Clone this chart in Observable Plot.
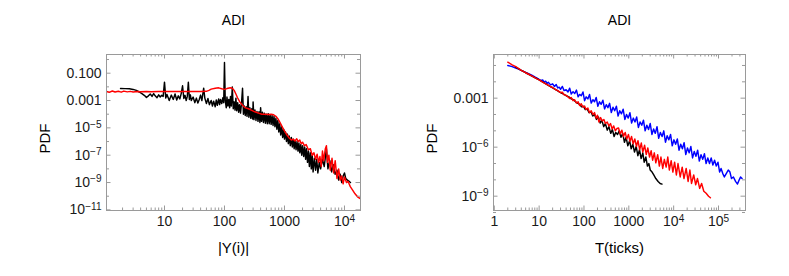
<!DOCTYPE html>
<html><head><meta charset="utf-8">
<script src="https://cdn.jsdelivr.net/npm/d3@7"></script>
<script src="https://cdn.jsdelivr.net/npm/@observablehq/plot@0.6"></script>
<style>
html,body{margin:0;padding:0;background:#fff;}
#wrap{display:flex;width:789px;height:276px;overflow:hidden;}
</style></head><body><div id="wrap"></div>
<script>
const title = "ADI";
const yLabel = "PDF";
const leftXLabel = "|Y(i)|";
const rightXLabel = "T(ticks)";

const leftXTicks = [10, 100, 1000, 10000];
const leftXTickLabels = ["10", "100", "1000", "10^4"];
const leftYTicks = [0.1, 0.001, 1e-5, 1e-7, 1e-9, 1e-11];
const leftYTickLabels = ["0.100", "0.001", "10^−5", "10^−7", "10^−9", "10^−11"];
const leftYMinor = [1, 1e-2, 1e-4, 1e-6, 1e-8, 1e-10];

const rightXTicks = [1, 10, 100, 1000, 10000, 100000];
const rightXTickLabels = ["1", "10", "100", "1000", "10^4", "10^5"];
const rightYTicks = [1e-3, 1e-6, 1e-9];
const rightYTickLabels = ["0.001", "10^−6", "10^−9"];
const rightYMinor = [1e-1, 1e-2, 1e-4, 1e-5, 1e-7, 1e-8, 1e-10];

// Left panel: black series
const leftBlackX = [1.85,2.2,2.6,3.0,3.4,3.8,4.2,4.6,5.0,5.4,5.8,6.2,6.6,7.0,7.5,8.0,8.5,9.0,9.5,10,10.5,11,12,13,14,15,16,17,18,19,20,21,22,23,24,25,26,27,28,30,32,34,36,38,40,42,45,47,50,53,56,60,63,66,70,73,76,80,83,86,90,94,97,100,103,107,110,114,118,122,126,130,135,140,145,150,155,160,166,172,178,185,192,200,207,214,222,230,238,247,255,265,275,285,295,300,310,322,335,348,362,376,390,400,415,430,446,463,480,498,517,536,556,577,599,621,645,669,694,720,747,775,804,834,865,898,932,967,1000,1040,1080,1120,1160,1200,1250,1300,1350,1400,1450,1500,1560,1620,1680,1740,1800,1870,1940,2010,2090,2170,2250,2330,2420,2510,2600,2700,2800,2900,3000,3150,3300,3450,3600,3800,4000,4300,4600,5000,5300,5700,6100,6500,7000,7500,8000,8500,9000,9500,10000,10500,11200,12000,12600];
const leftBlackY = [7.5e-3,7.4e-3,7.2e-3,6.5e-3,5.5e-3,4.2e-3,3.2e-3,2.4e-3,1.7e-3,2.2e-3,3.0e-3,2.0e-3,3.2e-3,2.2e-3,1.6e-3,2.6e-3,1.8e-3,2.4e-3,2.0e-3,2.2e-2,1.5e-3,2.8e-3,1.0e-3,2.5e-3,1.2e-3,3.0e-3,1.1e-3,2.2e-3,1.3e-3,3.2e-3,1.2e-2,1.4e-3,2.4e-3,1.0e-3,2.0e-3,2.2e-2,1.2e-3,2.6e-3,1.0e-3,1.8e-3,7.0e-4,1.5e-3,6.5e-4,1.2e-3,2.5e-3,1.0e-3,8.0e-3,1.5e-3,6.0e-4,1.4e-3,5.0e-4,1.0e-3,4.0e-4,9.0e-4,3.5e-4,1.1e-3,4.5e-4,1.3e-3,5.0e-4,1.2e-3,6.0e-4,1.6e-3,7.0e-4,6.0e-1,1.0e-3,3.0e-4,1.8e-3,4.0e-4,1.2e-3,3.0e-4,2.0e-3,4.0e-4,1.0e-2,2.5e-4,8.0e-4,2.0e-4,1.5e-3,1.8e-4,7.0e-4,1.4e-4,5.0e-4,1.2e-4,6.0e-4,8.0e-3,1.0e-4,4.0e-4,8.0e-5,3.5e-4,7.0e-5,2.0e-3,6.0e-5,3.0e-4,5.0e-5,2.5e-4,4.5e-5,8.0e-4,4.0e-5,2.0e-4,3.5e-5,1.6e-4,3.0e-5,1.5e-4,2.5e-5,3.0e-4,3.0e-5,1.4e-4,2.5e-5,1.2e-4,2.2e-5,1.0e-4,2.0e-5,1.1e-4,2.0e-5,9.0e-5,1.8e-5,8.0e-5,1.5e-5,7.0e-5,1.2e-5,5.0e-5,8.0e-6,3.5e-5,5.0e-6,2.0e-5,3.0e-6,1.2e-5,2.0e-6,8.0e-6,1.5e-6,5.0e-6,1.0e-6,3.5e-6,7.0e-7,2.5e-6,5.0e-7,2.0e-6,4.0e-7,1.5e-6,3.0e-7,1.2e-6,2.5e-7,1.0e-6,2.0e-7,8.0e-7,1.5e-7,6.0e-7,1.0e-7,5.0e-7,8.0e-8,4.0e-7,5.0e-8,3.0e-7,3.0e-8,2.0e-7,1.5e-8,1.5e-7,1.0e-8,1.0e-7,6.0e-9,6.0e-8,8.0e-9,5.0e-8,5.0e-9,3.0e-8,1.0e-8,5.0e-8,1.5e-8,3.0e-7,1.0e-8,4.0e-8,6.0e-9,2.0e-8,4.0e-9,8.0e-9,1.5e-9,4.0e-9,1.0e-9,3.0e-9,5.0e-9,2.0e-9,1.5e-9,1.2e-9,1.0e-9];

// Left panel: red series
const leftRedX = [1.08,1.2,1.35,1.5,1.7,1.9,2.1,2.4,2.7,3.0,3.5,4.0,5,6,8,10,15,20,30,40,50,55,60,70,80,90,100,110,125,135,145,155,165,180,200,220,250,280,320,370,420,480,540,600,660,720,780,840,900,960,1020,1100,1200,1300,1400,1500,1600,1700,1800,1900,2000,2150,2300,2500,2700,2900,3100,3300,3500,3700,3900,4100,4300,4500,4800,5000,5200,5500,5800,6200,6600,7000,7500,8000,8500,9000,9500,10000,10800,11500,12500,13500,15000,16500,18000,18500];
const leftRedY = [4.6e-3,4.0e-3,5.0e-3,4.2e-3,4.8e-3,4.1e-3,4.9e-3,4.3e-3,4.7e-3,4.2e-3,4.6e-3,4.4e-3,4.5e-3,4.4e-3,4.5e-3,4.5e-3,4.5e-3,4.5e-3,4.5e-3,4.6e-3,4.7e-3,5.5e-3,6.8e-3,8.0e-3,8.5e-3,7.2e-3,6.5e-3,7.5e-3,8.5e-3,8.0e-3,5.5e-3,3.0e-3,1.6e-3,8.0e-4,4.5e-4,3.0e-4,2.5e-4,2.0e-4,1.5e-4,1.2e-4,1.0e-4,1.0e-4,9.5e-5,1.0e-4,9.0e-5,7.0e-5,4.5e-5,2.5e-5,1.4e-5,8.0e-6,5.0e-6,3.0e-6,1.8e-6,1.3e-6,1.5e-6,1.1e-6,1.6e-6,1.0e-6,1.3e-6,7.0e-7,9.0e-7,5.0e-7,6.0e-7,2.5e-7,3.0e-7,1.0e-7,1.5e-7,5.0e-8,1.2e-7,3.0e-8,8.0e-8,1.5e-8,2.0e-7,4.0e-8,3.0e-7,5.0e-7,3.0e-8,1.0e-7,8.0e-9,6.0e-8,5.0e-9,4.0e-8,2.0e-9,1.0e-8,1.5e-9,3.0e-9,8.0e-10,2.5e-9,1.0e-9,1.2e-9,5.0e-10,3.0e-10,1.5e-10,9.0e-11,7.0e-11,6.5e-11];

// Right panel: blue series
const rightBlueX = [2,2.5,3,3.5,4,5,6,7,8,9,10,11,12,13,14,15,16,18,20,22,24,26,28,30,33,36,40,44,48,52,57,62,68,74,80,87,95,103,112,122,133,145,158,172,187,204,222,242,264,288,314,342,373,407,444,484,528,576,628,685,747,815,889,970,1058,1154,1259,1373,1498,1634,1782,1944,2120,2313,2523,2752,3002,3275,3572,3897,4251,4637,5058,5518,6019,6566,7162,7813,8523,9297,10142,11063,12068,13164,14360,15665,17088,18640,20333,22180,24195,26393,28790,31405,34258,37370,40765,44468,48507,52913,57720,62963,68682,74921,81726,89150,97248,106000,114000,124000,135000,150000,165000,180000,195000,215000,240000,265000,290000,310000,335000];
const rightBlueY = [0.1,0.085,0.07,0.06,0.05,0.038,0.03,0.025,0.02,0.017,0.014,0.012,0.013,0.0095,0.011,0.008,0.0095,0.0065,0.0075,0.0052,0.0068,0.0042,0.0047,0.0035,0.0052,0.0029,0.0033,0.0024,0.0041,0.0018,0.0025,0.0019,0.0031,0.0012,0.0017,0.0014,0.0024,0.0007,0.0012,0.0009,0.0017,0.0005,0.0008,0.0006,0.0011,0.00032,0.0006,0.00042,0.00075,0.00022,0.0004,0.00026,0.00048,0.00013,0.00028,0.00017,0.00032,0.00008,0.00017,0.00011,0.00021,5e-5,1e-4,6e-5,1.3e-4,3e-5,6e-5,3.5e-5,7e-5,1.6e-5,3.5e-5,2.2e-5,4.5e-5,1e-5,2.2e-5,1.2e-5,2.8e-5,6e-6,1.3e-5,7e-6,1.8e-5,3.5e-6,8e-6,4.5e-6,1e-5,2e-6,5e-6,2.8e-6,6e-6,1.2e-6,2.8e-6,1.5e-6,3.2e-6,6.5e-7,1.5e-6,8e-7,1.9e-6,3.5e-7,9e-7,4.5e-7,1.1e-6,2.2e-7,5.5e-7,2.8e-7,6.5e-7,1.4e-7,3.5e-7,1.8e-7,4e-7,1e-7,2.2e-7,1e-7,2.2e-7,8e-8,1.6e-7,7e-8,1.2e-7,3e-8,5e-8,2.5e-8,1.5e-8,2.5e-8,4e-8,3e-8,1.2e-8,1.5e-8,8e-9,5.5e-9,1e-8,1.5e-8,1.2e-8];

// Right panel: black series
const rightBlackX = [3,4,5,6,8,10,13,16,20,25,30,35,40,46,52,58,65,72,80,88,97,107,118,130,143,157,172,190,210,230,250,275,300,330,360,395,430,470,510,560,610,670,730,800,870,950,1040,1130,1230,1340,1460,1590,1730,1880,2050,2200,2400,2600,2800,3000,3300,3600,4000,4500,5000,5500];
const rightBlackY = [0.08,0.05,0.036,0.028,0.018,0.013,0.0085,0.006,0.0043,0.003,0.0022,0.0018,0.0014,0.0012,0.0009,0.0008,0.0006,0.0005,0.00042,0.0003,0.00032,0.0002,0.00022,0.00013,0.00015,8e-5,0.0001,5e-5,7e-5,3e-5,4.5e-5,1.8e-5,2.8e-5,1.1e-5,1.8e-5,7e-6,1.2e-5,4.5e-6,8e-6,6e-6,1e-5,4e-6,7e-6,2e-6,4e-6,1.2e-6,2.5e-6,8e-7,1.5e-6,5e-7,1.1e-6,3e-7,7e-7,2e-7,4.5e-7,1.2e-7,2.5e-7,7e-8,1e-7,4e-8,3e-8,2e-8,1.2e-8,8e-9,6e-9,5.5e-9];

// Right panel: red series
const rightRedX = [2,2.5,3,3.5,4,5,6,7,8,9,10,12,14,16,18,20,23,26,30,33,36,40,44,48,52,57,62,68,74,80,87,95,103,112,122,133,145,158,172,187,200,215,235,255,278,300,330,360,390,425,460,500,545,590,640,700,760,830,900,980,1060,1150,1250,1360,1480,1600,1750,1900,2050,2250,2450,2650,2900,3150,3400,3700,4000,4400,4800,5200,5700,6200,6800,7400,8000,8800,9600,10500,11500,12500,14000,15500,17000,19000,21000,23000,25000,28000,31000,34000,38000,42000,47000,53000,60000,66000];
const rightRedY = [0.16,0.11,0.085,0.065,0.05,0.036,0.028,0.022,0.018,0.015,0.013,0.0095,0.0075,0.0062,0.005,0.0045,0.0034,0.0029,0.0022,0.0023,0.0016,0.0015,0.0012,0.00095,0.0011,0.0007,0.0008,0.0005,0.0006,0.00035,0.00045,0.00028,0.00033,0.0002,0.00025,0.00013,0.00017,0.0001,0.00013,6e-5,9e-5,3.5e-5,6.5e-5,4e-5,5e-5,2.8e-5,3.5e-5,2e-5,2.8e-5,1.3e-5,2e-5,1e-5,1.4e-5,1.5e-5,6.5e-6,1.1e-5,4.5e-6,8e-6,3.2e-6,6e-6,2.3e-6,4.5e-6,1.6e-6,3.2e-6,1.1e-6,2.5e-6,7e-7,1.8e-6,5e-7,1.3e-6,3.5e-7,9e-7,2.5e-7,6e-7,1.6e-7,4.5e-7,1.1e-7,3.5e-7,7e-8,2.5e-7,5e-8,1.8e-7,6e-8,2.5e-7,4e-8,1.5e-7,3e-8,1.2e-7,2e-8,1e-7,1.5e-8,6e-8,1.2e-8,5e-8,8e-9,4e-8,6e-9,2e-8,5e-9,1.2e-8,3e-9,6e-9,2e-9,1.5e-9,1.0e-9,8e-10];

const pairs = (xs, ys) => xs.map((x, i) => ({x, y: ys[i]}));

const FONT = '"Liberation Sans", Arial, Helvetica, sans-serif';
const GRAY = "#9a9a9a";
const TEXT = "#1a1a1a";
const TICK_FS = 14;

function superscripts(svg) {
  d3.select(svg).selectAll("text").each(function () {
    const t = this.textContent;
    if (!t.includes("^")) return;
    const [base, exp] = t.split("^");
    const el = d3.select(this);
    el.text(null);
    el.append("tspan").text(base);
    el.append("tspan").attr("dy", "-0.48em").attr("font-size", "0.72em").text(exp);
  });
  return svg;
}

function panel({width, ml, mr, xDomain, yDomain, xTicks, xTickLabels, yTicks, yTickLabels, yMinor, series, xLabel}) {
  const H = 276, mt = 54, mb = 66;
  const fh = H - mt - mb;
  const fw = width - ml - mr;
  const xMinor = d3.scaleLog().domain(xDomain).ticks().filter(v => !xTicks.includes(v));
  const MAJ = 4.5, MIN = 2.5;
  const xLab = new Map(xTicks.map((t, i) => [t, xTickLabels[i]]));
  const yLab = new Map(yTicks.map((t, i) => [t, yTickLabels[i]]));
  const tickStyle = {stroke: GRAY, strokeWidth: 1};
  const svg = Plot.plot({
    width, height: H,
    marginLeft: ml, marginRight: mr, marginTop: mt, marginBottom: mb,
    style: {fontFamily: FONT, fontSize: TICK_FS + "px", color: TEXT, background: "#fff"},
    x: {type: "log", domain: xDomain},
    y: {type: "log", domain: yDomain},
    marks: [
      ...series.map(s => Plot.line(pairs(s.x, s.y), {x: "x", y: "y", stroke: s.color, strokeWidth: 1.45, clip: true})),
      Plot.ruleX(xMinor, {x: d => d, insetTop: fh - MIN, ...tickStyle}),
      Plot.ruleX(xMinor, {x: d => d, insetBottom: fh - MIN, ...tickStyle}),
      Plot.ruleX(xTicks, {x: d => d, insetTop: fh - MAJ, ...tickStyle}),
      Plot.ruleX(xTicks, {x: d => d, insetBottom: fh - MAJ, ...tickStyle}),
      Plot.ruleY(yMinor, {y: d => d, insetRight: fw - MIN - 0.5, ...tickStyle}),
      Plot.ruleY(yMinor, {y: d => d, insetLeft: fw - MIN - 0.5, ...tickStyle}),
      Plot.ruleY(yTicks, {y: d => d, insetRight: fw - MAJ, ...tickStyle}),
      Plot.ruleY(yTicks, {y: d => d, insetLeft: fw - MAJ, ...tickStyle}),
      Plot.frame({stroke: GRAY, strokeWidth: 1}),
      Plot.axisX(xTicks, {anchor: "bottom", tickSize: 0, tickPadding: 6, label: null, tickFormat: d => xLab.get(d), fill: TEXT, fontSize: TICK_FS}),
      Plot.axisY(yTicks, {anchor: "left", tickSize: 0, tickPadding: 5, label: null, tickFormat: d => yLab.get(d), fill: TEXT, fontSize: TICK_FS}),
      Plot.text([title], {frameAnchor: "top", dy: -34, text: d => d, textAnchor: "middle", lineAnchor: "middle", fill: "#000", fontSize: 14}),
      Plot.text([xLabel], {frameAnchor: "bottom", dy: 38, text: d => d, textAnchor: "middle", lineAnchor: "middle", fill: "#000", fontSize: 15}),
      Plot.text([yLabel], {frameAnchor: "left", dx: -61, dy: 6, rotate: -90, text: d => d, textAnchor: "middle", lineAnchor: "middle", fill: "#000", fontSize: 15})
    ]
  });
  return superscripts(svg);
}

const wrap = document.getElementById("wrap");
wrap.appendChild(panel({
  width: 394, ml: 106, mr: 34,
  xDomain: [1.08, 18500], yDomain: [9e-12, 2.33],
  xTicks: leftXTicks, xTickLabels: leftXTickLabels,
  yTicks: leftYTicks, yTickLabels: leftYTickLabels, yMinor: leftYMinor,
  xLabel: leftXLabel,
  series: [
    {x: leftBlackX, y: leftBlackY, color: "#000"},
    {x: leftRedX, y: leftRedY, color: "#ff0000"}
  ]
}));
wrap.appendChild(panel({
  width: 395, ml: 99, mr: 44,
  xDomain: [0.96, 4e5], yDomain: [1.33e-10, 0.47],
  xTicks: rightXTicks, xTickLabels: rightXTickLabels,
  yTicks: rightYTicks, yTickLabels: rightYTickLabels, yMinor: rightYMinor,
  xLabel: rightXLabel,
  series: [
    {x: rightBlueX, y: rightBlueY, color: "#0000ff"},
    {x: rightBlackX, y: rightBlackY, color: "#000"},
    {x: rightRedX, y: rightRedY, color: "#ff0000"}
  ]
}));
</script>
</body></html>
